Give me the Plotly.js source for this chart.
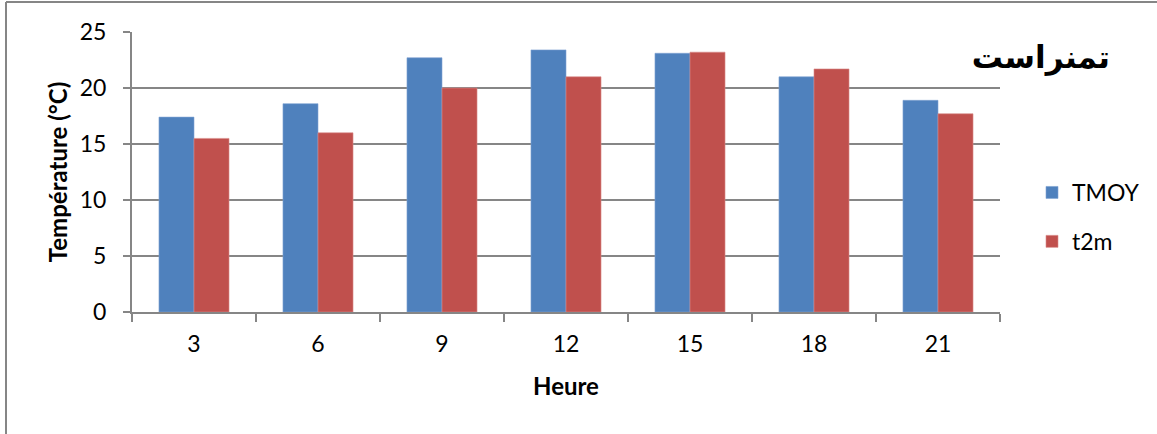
<!DOCTYPE html>
<html>
<head>
<meta charset="utf-8">
<script src="https://cdn.plot.ly/plotly-3.0.1.min.js"></script>
<style>
  html, body { margin: 0; padding: 0; background: #ffffff; }
  #chart { width: 1157px; height: 434px; }
</style>
</head>
<body>
<div id="chart"></div>
<script>
// Hourly mean temperature at Tamanrasset: station TMOY vs t2m
const hours = ["3", "6", "9", "12", "15", "18", "21"];
const tmoy = [17.4, 18.6, 22.7, 23.4, 23.1, 21.0, 18.9];
const t2m = [15.5, 16.0, 20.0, 21.0, 23.2, 21.7, 17.7];
const seriesNames = ["TMOY", "t2m"];
const chartTitle = "تمنراست";

const W = 1157, H = 434;
const L = 132, R = 157, T = 32, B = 122;
const pw = W - L - R, ph = H - T - B;
const px = v => (v - L) / pw;       // pixel x -> paper x
const py = v => (H - B - v) / ph;   // pixel y -> paper y

const font = "Lato, 'Liberation Sans', sans-serif";
const gridCol = "#868686";

const traces = [
  { type: "bar", name: seriesNames[0], x: hours, y: tmoy, legendgroup: "a",
    marker: { color: "#4F81BD", line: { color: "#7FA3D3", width: 0.6 } } },
  { type: "bar", name: seriesNames[1], x: hours, y: t2m, legendgroup: "b",
    marker: { color: "#C0504D", line: { color: "#D88B89", width: 0.6 } } }
];

const layout = {
  width: W, height: H,
  margin: { l: L, r: R, t: T, b: B, pad: 0 },
  paper_bgcolor: "#ffffff", plot_bgcolor: "#ffffff",
  barmode: "group", bargap: 0.435, bargroupgap: 0,
  font: { family: font, size: 23, color: "#000000" },
  title: {
    text: "<b>" + chartTitle + "</b>",
    font: { family: "'DejaVu Sans', sans-serif", size: 31, color: "#000000" },
    xref: "container", yref: "container",
    x: 1110 / W, xanchor: "right", y: 1 - 57 / H, yanchor: "middle"
  },
  xaxis: {
    type: "category",
    showline: true, linecolor: gridCol, linewidth: 2,
    ticks: "outside", tickson: "boundaries", ticklen: 8, tickwidth: 2, tickcolor: gridCol,
    ticklabelstandoff: 10,
    tickfont: { family: font, size: 23 },
    showgrid: false, zeroline: false,
    title: { text: "<b>Heure</b>", font: { family: font, size: 24 }, standoff: 23 }
  },
  yaxis: {
    range: [0, 25], dtick: 5,
    showline: true, linecolor: gridCol, linewidth: 2,
    ticks: "outside", ticklen: 7, tickwidth: 2, tickcolor: gridCol,
    ticklabelstandoff: 12,
    gridcolor: gridCol, gridwidth: 2,
    zeroline: false,
    tickfont: { family: font, size: 23 },
    title: { text: "<b>Température (°C)</b>", font: { family: font, size: 24 }, standoff: 5 }
  },
  legend: {
    x: px(1032), xanchor: "left", y: py(217), yanchor: "middle",
    font: { family: font, size: 23 },
    itemwidth: 30, tracegroupgap: 16,
    bgcolor: "rgba(0,0,0,0)"
  },
  shapes: [
    { type: "line", xref: "paper", yref: "paper", x0: px(6), x1: px(1160), y0: py(2), y1: py(2),
      line: { color: gridCol, width: 2 } },
    { type: "line", xref: "paper", yref: "paper", x0: px(6), x1: px(6), y0: py(2), y1: py(440),
      line: { color: gridCol, width: 2 } }
  ]
};

Plotly.newPlot("chart", traces, layout, { displayModeBar: false, staticPlot: true });
</script>
</body>
</html>
